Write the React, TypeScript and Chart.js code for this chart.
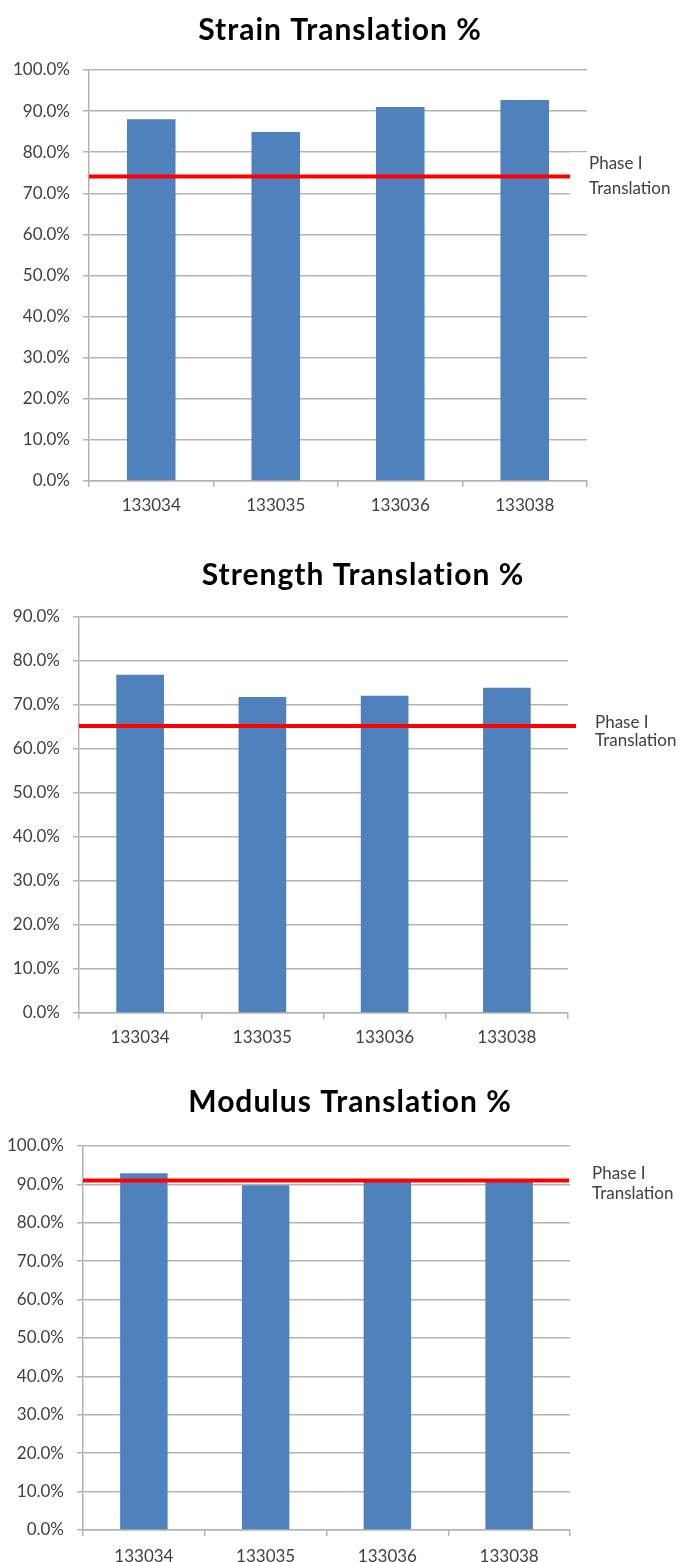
import React, { useEffect, useRef } from 'react';
import { Chart, registerables } from 'chart.js';

Chart.register(...registerables);

// ---------- data ----------
const categories = ['133034', '133035', '133036', '133038'];

const strainTitle = 'Strain Translation %';
const strainValues = [88.0, 84.9, 91.0, 92.7];
const strainThreshold = 74.1;
const strainAxisMax = 100;

const strengthTitle = 'Strength Translation %';
const strengthValues = [76.9, 71.8, 72.1, 73.9];
const strengthThreshold = 65.2;
const strengthAxisMax = 90;

const modulusTitle = 'Modulus Translation %';
const modulusValues = [92.9, 89.8, 90.8, 90.8];
const modulusThreshold = 91.0;
const modulusAxisMax = 100;

const thresholdLabelLines = ['Phase I', 'Translation'];

// ---------- styles ----------
const FONT = 'Lato, "Open Sans", "DejaVu Sans", sans-serif';
const BAR_COLOR = '#4f81bd';
const GRID_COLOR = '#b3b3b3';
const TEXT_COLOR = '#404040';
const TICK_SIZE = 17;

const annotatePlugin = {
  id: 'annotate',
  afterDatasetsDraw(chart: any, _args: any, opts: any) {
    const { ctx, chartArea, scales } = chart;
    const y = scales.y.getPixelForValue(opts.value);
    ctx.save();
    if (opts.box) {
      ctx.fillStyle = '#ffffff';
      ctx.fillRect(chartArea.right + opts.box.dx, y + opts.box.dy, 200, opts.box.h);
    }
    ctx.strokeStyle = '#ff0000';
    ctx.lineWidth = 4;
    ctx.beginPath();
    ctx.moveTo(chartArea.left, y);
    ctx.lineTo(chartArea.right + opts.lineEnd, y);
    ctx.stroke();
    ctx.fillStyle = TEXT_COLOR;
    ctx.font = `${TICK_SIZE}px ${FONT}`;
    ctx.textAlign = 'left';
    ctx.textBaseline = 'middle';
    const x = chartArea.right + opts.labelDx;
    ctx.fillText(thresholdLabelLines[0], x, y + opts.labelDy[0]);
    ctx.fillText(thresholdLabelLines[1], x, y + opts.labelDy[1]);
    // chart title
    ctx.fillStyle = '#000000';
    ctx.font = `bold ${opts.titleSize}px ${FONT}`;
    try {
      (ctx as any).letterSpacing = '1px';
    } catch (e) {}
    ctx.textAlign = 'center';
    ctx.textBaseline = 'middle';
    ctx.fillText(opts.title, opts.titleX, opts.titleY);
    try {
      (ctx as any).letterSpacing = '0px';
    } catch (e) {}
    ctx.restore();
  },
};

type PanelProps = {
  top: number;
  height: number;
  title: string;
  values: number[];
  threshold: number;
  axisMax: number;
  plotLeft: number;
  plotRight: number;
  plotTop: number;
  plotBottom: number;
  titleX: number;
  titleY: number;
  lineEnd: number;
  labelDx: number;
  labelDy: number[];
  xPad: number;
  box?: { dx: number; dy: number; h: number } | null;
};

function Panel(p: PanelProps) {
  const ref = useRef<HTMLCanvasElement | null>(null);
  useEffect(() => {
    if (!ref.current) return;
    const chart = new Chart(ref.current, {
      type: 'bar',
      data: {
        labels: categories,
        datasets: [
          {
            data: p.values,
            backgroundColor: BAR_COLOR,
            borderWidth: 0,
            barPercentage: 0.39,
            categoryPercentage: 1,
          },
        ],
      },
      options: {
        animation: false,
        responsive: false,
        devicePixelRatio: 1,
        layout: { padding: { left: 0, right: 684 - p.plotRight, top: p.plotTop, bottom: 0 } },
        plugins: {
          legend: { display: false },
          tooltip: { enabled: false },
          title: { display: false },
          annotate: {
            value: p.threshold,
            lineEnd: p.lineEnd,
            labelDx: p.labelDx,
            labelDy: p.labelDy,
            box: p.box || null,
            title: p.title,
            titleX: p.titleX,
            titleY: p.titleY,
            titleSize: 30,
          },
        } as any,
        scales: {
          x: {
            grid: {
              display: true,
              drawOnChartArea: false,
              drawTicks: true,
              tickLength: 6,
              color: GRID_COLOR,
              lineWidth: 1.5,
              offset: true,
            },
            border: { color: GRID_COLOR, width: 1.5 },
            ticks: {
              color: TEXT_COLOR,
              font: { family: FONT, size: TICK_SIZE },
              padding: p.xPad,
              maxRotation: 0,
            },
            afterFit: (scale: any) => {
              scale.height = p.height - p.plotBottom;
            },
          },
          y: {
            min: 0,
            max: p.axisMax,
            grid: {
              color: GRID_COLOR,
              lineWidth: 1.5,
              tickLength: 6,
              drawTicks: true,
            },
            border: { color: GRID_COLOR, width: 1.5 },
            ticks: {
              stepSize: 10,
              color: TEXT_COLOR,
              font: { family: FONT, size: TICK_SIZE },
              padding: 13,
              callback: (v: any) => Number(v).toFixed(1) + '%',
            },
            afterFit: (scale: any) => {
              scale.width = p.plotLeft;
            },
          },
        },
      },
      plugins: [annotatePlugin],
    });
    return () => chart.destroy();
  }, []);
  return (
    <div style={{ position: 'absolute', left: 0, top: p.top, width: 684, height: p.height }}>
      <canvas ref={ref} width={684} height={p.height} style={{ display: 'block' }} />
    </div>
  );
}

export default function App() {
  return (
    <div
      style={{
        position: 'absolute',
        left: 0,
        top: 0,
        width: 684,
        height: 1562,
        background: '#ffffff',
        overflow: 'hidden',
      }}
    >
      <Panel
        top={0}
        height={540}
        title={strainTitle}
        values={strainValues}
        threshold={strainThreshold}
        axisMax={strainAxisMax}
        plotLeft={89}
        plotRight={587}
        plotTop={70}
        plotBottom={481}
        titleX={340}
        titleY={30}
        lineEnd={-17}
        labelDx={2}
        labelDy={[-13, 12]}
        xPad={8}
        box={{ dx: -17, dy: -24, h: 58 }}
      />
      <Panel
        top={540}
        height={535}
        title={strengthTitle}
        values={strengthValues}
        threshold={strengthThreshold}
        axisMax={strengthAxisMax}
        plotLeft={79}
        plotRight={568}
        plotTop={77}
        plotBottom={473}
        titleX={363}
        titleY={35}
        lineEnd={8}
        labelDx={27}
        labelDy={[-4, 14]}
        xPad={8}
        box={null}
      />
      <Panel
        top={1075}
        height={487}
        title={modulusTitle}
        values={modulusValues}
        threshold={modulusThreshold}
        axisMax={modulusAxisMax}
        plotLeft={83}
        plotRight={570}
        plotTop={71}
        plotBottom={455}
        titleX={350}
        titleY={27}
        lineEnd={-1}
        labelDx={22}
        labelDy={[-7, 13]}
        xPad={10}
        box={null}
      />
    </div>
  );
}
